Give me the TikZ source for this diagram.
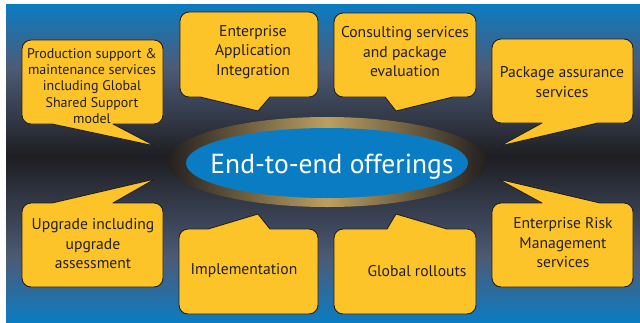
\documentclass[tikz,border=0pt]{standalone}
\usepackage{fontspec}
\setmainfont{PT Sans}

\definecolor{bgblue}{HTML}{0B7CC2}
\definecolor{bgslate}{HTML}{4C5B76}
\definecolor{bgdark}{HTML}{1E1E22}
\definecolor{ringdark}{HTML}{231F20}
\definecolor{ringgold}{HTML}{BBA060}
\definecolor{hubblue}{HTML}{0A7CC4}
\definecolor{bubbleyellow}{HTML}{FDC42A}
\definecolor{inkdark}{HTML}{231F20}

\pgfdeclareverticalshading{backdrop}{100bp}{color(0bp)=(bgblue); color(25bp)=(bgblue); color(35bp)=(bgslate); color(51bp)=(bgdark); color(65bp)=(bgslate); color(75bp)=(bgblue); color(100bp)=(bgblue)}

\tikzset{
  bubble/.style={fill=bubbleyellow, draw=inkdark, line width=0.9pt, line join=round},
  bubbletext/.style={text=inkdark, align=center, font=\fontsize{15.6}{19.5}\selectfont},
  smalltext/.style={text=inkdark, align=center, font=\fontsize{14}{16.3}\selectfont}
}

\begin{document}
\begin{tikzpicture}[x=1pt, y=-1pt]
  \useasboundingbox (0,0) rectangle (640,322);
  \shade[shading=backdrop] (6,4) rectangle (640,322);

  % centre ellipse
  \shade[left color=ringdark, right color=ringdark, middle color=ringgold] (327,162) ellipse [x radius=160, y radius=45];
  \fill[hubblue] (327,163) ellipse [x radius=141, y radius=35];
  \node[text=white, font=\fontsize{27.5}{32}\selectfont, anchor=base] (hub) at (332,173) {End-to-end offerings};

  % upper callouts
  \filldraw[bubble] (92,40) [rounded corners=9pt] -- (163,40) -- (163,124) [sharp corners] -- (113,124) -- (155,146) -- (52,124) [rounded corners=9pt] -- (22,124) -- (22,40) -- cycle;
  \filldraw[bubble] (249,12) [rounded corners=9pt] -- (318,12) -- (318,97) [sharp corners] -- (270,97) -- (258,111) -- (200,97) [rounded corners=9pt] -- (180,97) -- (180,12) -- cycle;
  \filldraw[bubble] (405,13) [rounded corners=9pt] -- (476,13) -- (476,97) [sharp corners] -- (453,97) -- (396,111) -- (385,97) [rounded corners=9pt] -- (334,97) -- (334,13) -- cycle;
  \filldraw[bubble] (562,39) [rounded corners=9pt] -- (633,39) -- (633,123) [sharp corners] -- (598,123) -- (500,146) -- (542,123) [rounded corners=9pt] -- (492,123) -- (492,39) -- cycle;

  % lower callouts
  \filldraw[bubble] (92,287) [rounded corners=9pt] -- (22,287) -- (22,203) [sharp corners] -- (52,203) -- (155,179) -- (113,203) [rounded corners=9pt] -- (163,203) -- (163,287) -- cycle;
  \filldraw[bubble] (248,314) [rounded corners=9pt] -- (179,314) -- (179,229) [sharp corners] -- (208,229) -- (258,214) -- (270,229) [rounded corners=9pt] -- (318,229) -- (318,314) -- cycle;
  \filldraw[bubble] (405,314) [rounded corners=9pt] -- (334,314) -- (334,229) [sharp corners] -- (387,229) -- (396,214) -- (447,229) [rounded corners=9pt] -- (476,229) -- (476,314) -- cycle;
  \filldraw[bubble] (562,287) [rounded corners=9pt] -- (492,287) -- (492,203) [sharp corners] -- (542,203) -- (498,179) -- (600,203) [rounded corners=9pt] -- (633,203) -- (633,287) -- cycle;

  % labels
  \node[smalltext] (support) at (92,86) {Production support \&\\maintenance services\\including Global\\Shared Support\\model};
  \node[bubbletext] (eai) at (253,52) {Enterprise\\Application\\Integration};
  \node[bubbletext] (consult) at (405,52) {Consulting services\\and package\\evaluation};
  \node[bubbletext] (assure) at (562,82) {Package assurance\\services};
  \node[bubbletext] (upgrade) at (93,244) {Upgrade including\\upgrade\\assessment};
  \node[bubbletext] (implement) at (244,271) {Implementation};
  \node[bubbletext] (rollout) at (417,271) {Global rollouts};
  \node[bubbletext] (risk) at (563,243) {Enterprise Risk\\Management\\services};
\end{tikzpicture}
\end{document}
